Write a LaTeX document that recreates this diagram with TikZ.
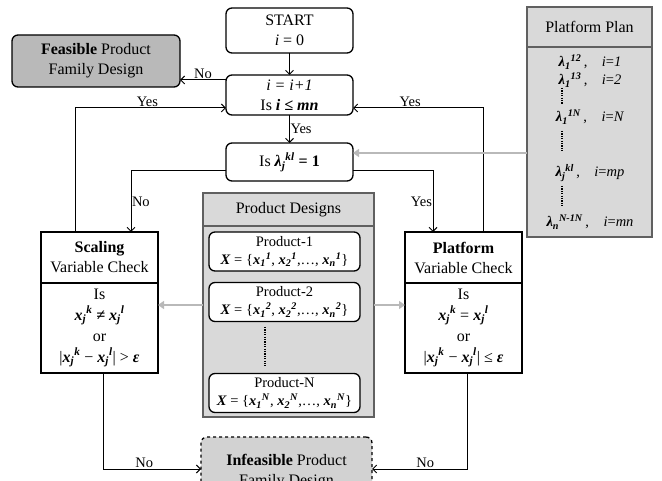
\documentclass[tikz,border=0pt]{standalone}
\usepackage{amsmath}
\usepackage{fontspec}
\setmainfont{Liberation Serif}
\usetikzlibrary{arrows.meta,
    positioning}

\newcommand{\bv}[1]{\textbf{\textit{#1}}}
\newcommand{\xv}[2]{$\bv{x}_{\bv{#1}}{}^{\bv{#2}}$}
\newcommand{\lv}[2]{$\bv{λ}_{\bv{#1}}{}^{\bv{#2}}$}

\begin{document}
\begin{tikzpicture}[x=1pt,y=-1pt,
    every node/.style={font=\fontsize{16}{20}\selectfont, align=center, outer sep=0pt},
    box/.style={draw, rounded corners=6pt, line width=1.3pt},
    sqbox/.style={draw, line width=1.6pt, minimum width=117pt},
    panel/.style={draw=gray!75!black, fill=gray!30, line width=1.8pt},
    prod/.style={box, fill=white, minimum width=151pt, minimum height=39pt,
        font=\fontsize{14.5}{18}\selectfont},
    flow/.style={line width=1pt, -{Straight Barb[length=4pt,width=8pt]}},
    greyflow/.style={line width=2pt, draw=gray!55, -{Triangle[length=6pt,width=8pt]}},
    dots/.style={line width=1.6pt, dash pattern=on 1.2pt off 1.2pt},
    lab/.style={font=\fontsize{14.5}{17}\selectfont, inner sep=1pt}]
                  \useasboundingbox (0,0) rectangle (662,481);
                  \clip (0,0) rectangle (662,481);
                  % main column
                  \node[box, minimum width=127pt, minimum height=45pt] (start) at (289.5,30.5) {START\\\textit{i} = 0};
                  \node[box, minimum width=127pt, minimum height=40pt] (incr) at (289.5,95) {\textit{i = i+1}\\Is \bv{i ≤ mn}};
                  \node[box, minimum width=127pt, minimum height=38pt] (check) at (289.5,162) {Is \lv{j}{kl} \textbf{= 1}};
                  \node[box, fill=gray!55, minimum width=168pt, minimum height=52pt] (feasible) at (96,61) {\textbf{Feasible} Product\\Family Design};
                  \node[box, dashed, fill=gray!35, minimum width=171pt, minimum height=70pt] (infeasible) at (286.5,472) {\textbf{Infeasible} Product\\Family Design};
                  % variable checks
                  \node[sqbox, minimum height=51pt] (scalingTop) at (99.5,257.5) {\textbf{Scaling}\\Variable Check};
                  \node[sqbox, minimum height=90pt, below=0pt of scalingTop, font=\fontsize{16}{21}\selectfont] (scalingBot) {Is\\\xv{j}{k} \bv{≠} \xv{j}{l}\\or\\|\xv{j}{k} − \xv{j}{l}| > \bv{ε}};
                  \node[sqbox, minimum height=51pt] (platformTop) at (463.5,257.5) {\textbf{Platform}\\Variable Check};
                  \node[sqbox, minimum height=90pt, below=0pt of platformTop, font=\fontsize{16}{21}\selectfont] (platformBot) {Is\\\xv{j}{k} = \xv{j}{l}\\or\\|\xv{j}{k} − \xv{j}{l}| ≤ \bv{ε}};
                  % product designs
                  \node[panel, minimum width=171pt, minimum height=33pt] (designsTop) at (288.5,209.5) {Product Designs};
                  \node[panel, minimum width=171pt, minimum height=191pt, below=0pt of designsTop] (designsBot) {};
                  \node[prod] (prodA) at (284.5,251.5) {Product-1\\\bv{X} = \{\xv{1}{1}, \xv{2}{1},…, \xv{n}{1}\}};
                  \node[prod] (prodB) at (284.5,302) {Product-2\\\bv{X} = \{\xv{1}{2}, \xv{2}{2},…, \xv{n}{2}\}};
                  \node[prod] (prodN) at (284.5,393) {Product-N\\\bv{X} = \{\xv{1}{N}, \xv{2}{N},…, \xv{n}{N}\}};
                  \draw[dots] (265,327) -- (265,366);
                  % platform plan
                  \node[panel, minimum width=125pt, minimum height=40pt] (planTop) at (589.5,27) {Platform Plan};
                  \node[panel, minimum width=125pt, minimum height=190pt, below=0pt of planTop] (planBot) {};
                  \foreach \y/\lam/\idx in {62/\lv{1}{12}/1, 80/\lv{1}{13}/2, 117/\lv{1}{1N}/N, 173/\lv{j}{kl}/mp, 222/\lv{n}{N-1N}/mn}
                      \node[font=\fontsize{14.5}{17}\selectfont] at (590,\y) {\lam\,,\quad \textit{i}=\textit{\idx}};
                  \draw[dots] (562,88) -- (562,104);
                  \draw[dots] (562,131) -- (562,151);
                  \draw[dots] (562,186) -- (562,206);
                  % connectors
                  \draw[flow] (start) -- (incr);
                  \draw[flow] (incr) -- node[lab, right] {Yes} (check);
                  \draw[flow] (incr.west |- 0,80) -- node[lab, above] {No} (feasible.east |- 0,80);
                  \draw[flow] (scalingTop.north -| 75,0) |- node[lab, above, pos=0.74] {Yes} (incr.west |- 0,108);
                  \draw[flow] (platformTop.north -| 483,0) |- node[lab, above, pos=0.78] {Yes} (incr.east |- 0,108);
                  \draw[flow] (check.west |- 0,171) -| node[lab, right, pos=0.75] {No} (scalingTop.north -| 131,0);
                  \draw[flow] (check.east |- 0,171) -| node[lab, left, pos=0.75] {Yes} (platformTop.north -| 433,0);
                  \draw[flow] (scalingBot.south -| 103,0) |- node[lab, above, pos=0.71] {No} (infeasible.west |- 0,469);
                  \draw[flow] (platformBot.south -| 467,0) |- node[lab, above, pos=0.72] {No} (infeasible.east |- 0,469);
                  \draw[greyflow] (designsBot.west |- 0,305) -- (scalingBot.east |- 0,305);
                  \draw[greyflow] (designsBot.east |- 0,305) -- (platformBot.west |- 0,305);
                  \draw[greyflow] (planBot.west |- 0,153) -- (check.east |- 0,153);
              \end{tikzpicture}
\end{document}
